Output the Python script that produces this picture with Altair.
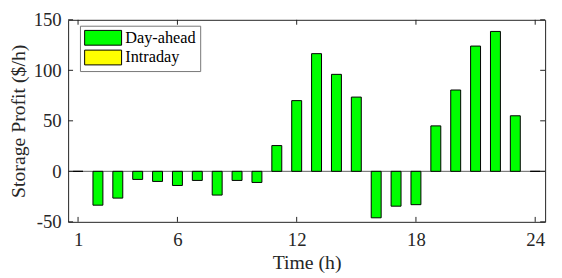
import altair as alt
import pandas as pd

hours = list(range(1, 25))
day_ahead = [0, -33.5, -26.5, -8, -10, -14, -9, -23.5, -9, -11, 25.5, 70,
             116.5, 96, 73.5, -46, -34.5, -33, 45, 80.5, 124, 138.5, 55, 0]
series_names = ["Day-ahead", "Intraday"]
series_colors = ["#00ff00", "#ffff00"]
x_ticks = [1, 6, 12, 18, 24]
y_ticks = [-50, 0, 50, 100, 150]

W, H = 484, 205
FONT = "Liberation Serif"
TXT = "#262626"

df = pd.DataFrame({"hour": hours, "profit": day_ahead, "series": "Day-ahead"})
df["x0"] = df["hour"] - 0.25
df["x1"] = df["hour"] + 0.25

xs = alt.Scale(domain=[0.5, 24.5], nice=False, zero=False)
ys = alt.Scale(domain=[-50, 150], nice=False, zero=False)

axis_font = dict(labelFont=FONT, labelFontSize=19, labelColor=TXT,
                 titleFont=FONT, titleFontSize=20, titleColor=TXT, titleFontWeight="normal",
                 labelExpr="datum.value + ''")

base_rule = alt.Chart(pd.DataFrame({"y": [0]})).mark_rule(color="#5f5f5f", strokeWidth=1).encode(
    y=alt.Y("y:Q", scale=ys),
    x=alt.value(0), x2=alt.value(W))

bars = alt.Chart(df).mark_bar(stroke="black", strokeWidth=1).encode(
    x=alt.X("x0:Q", scale=xs,
            axis=alt.Axis(values=x_ticks, title="Time (h)", ticks=False, tickSize=0, domain=False,
                          grid=False, labelPadding=9, titlePadding=3, **axis_font)),
    x2="x1:Q",
    y=alt.Y("profit:Q", scale=ys,
            axis=alt.Axis(values=y_ticks, title="Storage Profit ($/h)", ticks=False, tickSize=0,
                          domain=False, grid=False, labelPadding=7, titlePadding=5, **axis_font)),
    y2=alt.datum(0),
    color=alt.Color("series:N",
                    scale=alt.Scale(domain=series_names, range=series_colors),
                    legend=alt.Legend(title=None, orient="none", legendX=12, legendY=6,
                                      symbolType="M-1,-1H4V1H-1Z", symbolSize=225,
                                      symbolStrokeColor="black", symbolStrokeWidth=1,
                                      labelFont=FONT, labelFontSize=16.5, labelColor="black",
                                      labelOffset=25.5, rowPadding=0,
                                      fillColor="white", strokeColor="#777777", padding=4)),
)

xt = pd.DataFrame({"t": x_ticks})
yt = pd.DataFrame({"t": y_ticks})
tick_style = dict(color="#222222", strokeWidth=1)
bottom_ticks = alt.Chart(xt).mark_rule(**tick_style).encode(
    x=alt.X("t:Q", scale=xs), y=alt.value(H), y2=alt.value(H - 5))
top_ticks = alt.Chart(xt).mark_rule(**tick_style).encode(
    x=alt.X("t:Q", scale=xs), y=alt.value(0), y2=alt.value(5))
left_ticks = alt.Chart(yt).mark_rule(**tick_style).encode(
    y=alt.Y("t:Q", scale=ys), x=alt.value(0), x2=alt.value(5))
right_ticks = alt.Chart(yt).mark_rule(**tick_style).encode(
    y=alt.Y("t:Q", scale=ys), x=alt.value(W), x2=alt.value(W - 5))

chart = alt.layer(base_rule, bars, bottom_ticks, top_ticks, left_ticks, right_ticks).properties(
    width=W, height=H,
    autosize=alt.AutoSizeParams(type="none"),
    padding={"left": 61, "top": 10, "right": 9, "bottom": 55},
).configure_view(stroke="#222222", strokeWidth=1)

chart.save("out.html", embed_options={"renderer": "svg", "actions": False})
